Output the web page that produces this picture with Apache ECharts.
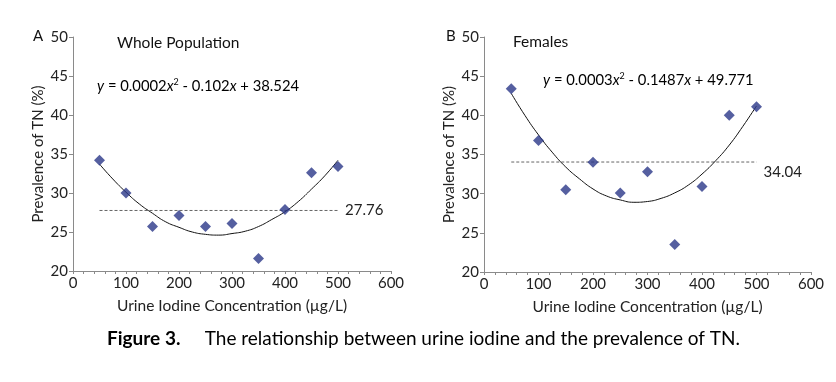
<!DOCTYPE html>
<html><head><meta charset="utf-8">
<script src="https://cdn.jsdelivr.net/npm/echarts@6/dist/echarts.min.js"></script>
<style>html,body{margin:0;padding:0;background:#fff}#c{width:836px;height:382px}</style>
</head><body><div id="c"></div>
<script>
// ---- data ----
var xValues = [50, 100, 150, 200, 250, 300, 350, 400, 450, 500];
var prevalenceWhole = [34.2, 30.0, 25.7, 27.1, 25.7, 26.1, 21.6, 27.9, 32.6, 33.4];
var prevalenceFemales = [43.4, 36.8, 30.5, 34.0, 30.1, 32.8, 23.5, 30.9, 40.0, 41.1];
var trendX = [50, 75, 100, 125, 150, 175, 200, 225, 250, 275, 300, 325, 350, 375, 400, 425, 450, 475, 500];
var trendWhole = [33.7, 31.8, 30.1, 28.6, 27.4, 26.3, 25.6, 25.0, 24.7, 24.6, 24.8, 25.1, 25.7, 26.6, 27.6, 28.9, 30.5, 32.2, 34.2];
var trendFemales = [42.8, 40.0, 37.5, 35.3, 33.4, 31.9, 30.6, 29.7, 29.2, 28.9, 29.0, 29.4, 30.1, 31.1, 32.5, 34.2, 36.2, 38.6, 41.2];
var meanWhole = 27.76;
var meanFemales = 34.04;
var yTicks = [20, 25, 30, 35, 40, 45, 50];
var xTicks = [0, 100, 200, 300, 400, 500, 600];

var FONT = 'Lato';
function pairs(xs, ys) { return xs.map(function (x, i) { return [x, ys[i]]; }); }

function xAxis(idx) {
  return {
    gridIndex: idx, type: 'value', min: xTicks[0], max: xTicks[xTicks.length - 1], interval: 100,
    name: 'Urine Iodine Concentration (\u00b5g/L)', nameLocation: 'middle', nameGap: 27,
    nameTextStyle: { fontFamily: FONT, fontSize: 15.5, color: '#222' },
    axisLine: { lineStyle: { color: '#8a8a8a', width: 1 } },
    axisTick: { show: true, inside: false, length: 3, lineStyle: { color: '#8a8a8a' } },
    minorTick: { show: true, splitNumber: 5, length: 3, lineStyle: { color: '#8a8a8a' } },
    axisLabel: { fontFamily: FONT, fontSize: 15, color: '#222', margin: 5 },
    splitLine: { show: false }
  };
}
function yAxis(idx) {
  return {
    gridIndex: idx, type: 'value', min: yTicks[0], max: yTicks[yTicks.length - 1], interval: 5,
    name: 'Prevalence of TN (%)', nameLocation: 'middle', nameGap: 27,
    nameTextStyle: { fontFamily: FONT, fontSize: 15, color: '#222' },
    axisLine: { show: true, lineStyle: { color: '#8a8a8a', width: 1 } },
    axisTick: { show: true, inside: false, length: 4, lineStyle: { color: '#8a8a8a' } },
    axisLabel: { fontFamily: FONT, fontSize: 15, color: '#222', margin: 5 },
    splitLine: { show: false }
  };
}
function seriesFor(idx, pts, trend, mean, labelOffset) {
  return [
    {
      type: 'line', xAxisIndex: idx, yAxisIndex: idx, data: pairs(trendX, trend),
      smooth: true, symbol: 'none', lineStyle: { color: '#111', width: 1 }, silent: true, z: 2
    },
    {
      type: 'line', xAxisIndex: idx, yAxisIndex: idx,
      data: [[xValues[0], mean], [xValues[xValues.length - 1], mean]],
      symbol: 'none', lineStyle: { color: '#666', width: 1, type: [3, 2] }, silent: true, z: 1,
      endLabel: { show: true, formatter: String(mean), fontFamily: FONT, fontSize: 15, color: '#222', distance: 7, offset: labelOffset }
    },
    {
      type: 'scatter', xAxisIndex: idx, yAxisIndex: idx, data: pairs(xValues, pts),
      symbol: 'diamond', symbolSize: [11, 11], itemStyle: { color: '#2b3788' }, z: 3
    }
  ];
}

var chart = echarts.init(document.getElementById('c'), null, { renderer: 'canvas' });
var eqRich = {
  i: { fontFamily: FONT, fontSize: 14.8, fontStyle: 'italic', color: '#111' },
  n: { fontFamily: FONT, fontSize: 14.8, color: '#111' },
  s: { fontFamily: FONT, fontSize: 9, color: '#111', padding: [0, 0, 8, 0] }
};
chart.setOption({
  animation: false,
  grid: [
    { left: 73, top: 37, width: 318, height: 234 },
    { left: 484, top: 37, width: 327, height: 235 }
  ],
  xAxis: [xAxis(0), xAxis(1)],
  yAxis: [yAxis(0), yAxis(1)],
  series: seriesFor(0, prevalenceWhole, trendWhole, meanWhole, [0, 0]).concat(
          seriesFor(1, prevalenceFemales, trendFemales, meanFemales, [0, 10])),
  graphic: [
    { type: 'text', left: 33, top: 29, style: { text: 'A', font: '15px ' + FONT, fill: '#111' } },
    { type: 'text', left: 446, top: 29, style: { text: 'B', font: '15px ' + FONT, fill: '#111' } },
    { type: 'text', left: 117, top: 35, style: { text: 'Whole Population', font: '15.5px ' + FONT, fill: '#111' } },
    { type: 'text', left: 513, top: 34, style: { text: 'Females', font: '15.5px ' + FONT, fill: '#111' } },
    { type: 'text', left: 97, top: 78, style: { text: '{i|y}{n| = 0.0002}{i|x}{s|2}{n| - 0.102}{i|x}{n| + 38.524}', rich: eqRich } },
    { type: 'text', left: 543, top: 72, style: { text: '{i|y}{n| = 0.0003}{i|x}{s|2}{n| - 0.1487}{i|x}{n| + 49.771}', rich: eqRich } },
    { type: 'text', left: 107, top: 329, style: {
        text: '{b|Figure 3.}{n|     The relationship between urine iodine and the prevalence of TN.}',
        rich: {
          b: { fontFamily: FONT, fontSize: 19, fontWeight: 'bold', color: '#111' },
          n: { fontFamily: FONT, fontSize: 19, color: '#111' }
        } } }
  ]
});
</script></body></html>
